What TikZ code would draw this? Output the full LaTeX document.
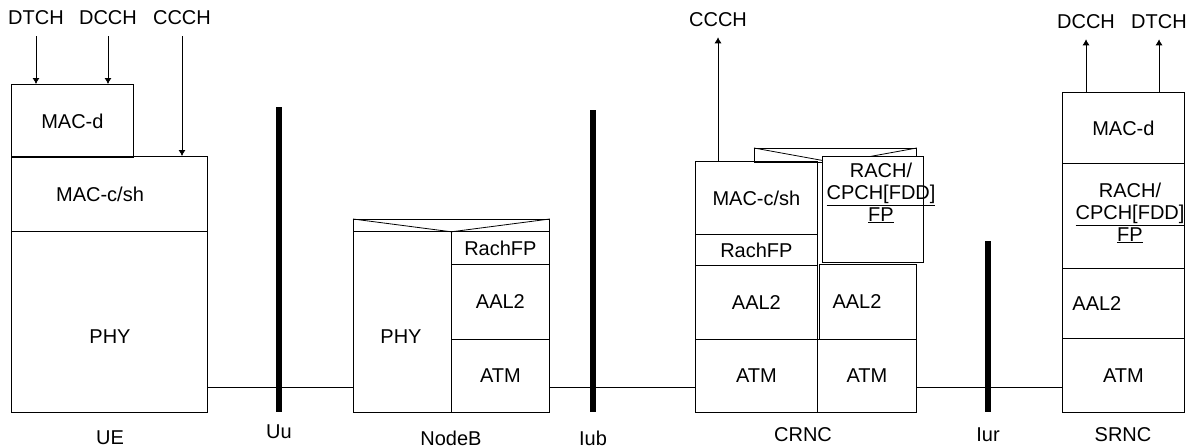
\documentclass[tikz,border=0pt]{standalone}
\usepackage{fontspec}
\setmainfont{Liberation Sans}
\usetikzlibrary{shapes,arrows.meta}
\tikzset{
    block/.style = {draw, 
                    rectangle, 
                    inner sep=0pt,
                    line width=0.8pt,
                    anchor=north west
    },
    dims/.style 2 args = {minimum width=#1, minimum height=#2},
    tag/.style = {inner sep=2pt},
    bar/.style = {line width=6pt},
    link/.style = {line width=0.8pt},
    chanin/.style = {line width=0.8pt, -{Latex[length=6pt,width=7pt]}, shorten <=9pt},
    chanout/.style = {line width=0.8pt, -{Latex[length=6pt,width=7pt]}, shorten >=8pt}
}

\begin{document}
\begin{tikzpicture}[x=1pt, y=-1pt, font=\fontsize{20}{22}\selectfont]
    \useasboundingbox (0,0) rectangle (1190,447);

    % UE
    \node [block,dims={122}{73}]    (uemacd)  at (11,84)   {MAC-d};
    \node [block,dims={196}{75}]    (uemacc)  at (11,156)  {};
    \node [block,dims={196}{181}]   (uephy)   at (11,231)  {};
    \node [tag]                     (uemacct) at (100,194) {MAC-c/sh};
    \node [tag]                     (uephyt)  at (110,337) {PHY};
    \node [tag]                     (uedtch)  at (36,18)   {DTCH};
    \node [tag]                     (uedcch)  at (108,18)  {DCCH};
    \node [tag]                     (ueccch)  at (182,18)  {CCCH};
    \node [tag]                     (ue)      at (110,438) {UE};

    \draw[chanin] (uedtch) -- (uedtch |- uemacd.north);
    \draw[chanin] (uedcch) -- (uedcch |- uemacd.north);
    \draw[chanin] (ueccch) -- (ueccch |- uemacc.north);

    % NodeB
    \node [block,dims={196}{12}]    (nbtop)   at (353,219) {};
    \node [block,dims={98}{181}]    (nbphy)   at (353,231) {};
    \node [block,dims={98}{33}]     (nbrach)  at (451,231) {RachFP};
    \node [block,dims={98}{75}]     (nbaal)   at (451,264) {AAL2};
    \node [block,dims={98}{73}]     (nbatm)   at (451,339) {ATM};
    \node [tag]                     (nbphyt)  at (401,337) {PHY};
    \node [tag]                     (nodeb)   at (451,438) {NodeB};
    \draw[link] (nbtop.north west) -- (nbtop.south) -- (nbtop.north east);

    % CRNC
    \node [block,dims={162}{14}]    (crtop)   at (754,148) {};
    \draw[link] (crtop.north west) -- (crtop.south) -- (crtop.north east);
    \node [block,fill=white,dims={101}{106}] (crrach) at (822,156) {};
    \node [align=center,inner sep=0pt] (crracht) at (881,193)
          {RACH/\\\underline{CPCH[FDD]}\\\underline{FP}};
    \node [block,dims={122}{73}]    (crmacc)  at (695,161) {MAC-c/sh};
    \node [block,dims={122}{31}]    (crrachfp) at (695,234) {RachFP};
    \node [block,dims={122}{74}]    (craal)   at (695,265) {AAL2};
    \node [block,dims={122}{73}]    (cratm)   at (695,339) {ATM};
    \node [block,dims={97}{75}]     (craal2)  at (819,264) {};
    \node [block,dims={99}{73}]     (cratm2)  at (817,339) {ATM};
    \node [tag]                     (craal2t) at (857,302) {AAL2};
    \node [tag]                     (crccch)  at (718,20)  {CCCH};
    \node [tag]                     (crnc)    at (803,435) {CRNC};

    \draw[chanout] (crccch |- crmacc.north) -- (crccch);

    % SRNC
    \node [block,dims={122}{71}]    (srmacd)  at (1062,92)  {MAC-d};
    \node [block,dims={122}{105}]   (srrach)  at (1062,163) {};
    \node [align=center,inner sep=0pt] (srracht) at (1130,213)
          {RACH/\\\underline{CPCH[FDD]}\\\underline{FP}};
    \node [block,dims={122}{70},text width=102,inner xsep=10,align=left] (sraal) at (1062,268) {AAL2};
    \node [block,dims={122}{74}]    (sratm)   at (1062,338) {ATM};
    \node [tag]                     (srdcch)  at (1086,22)  {DCCH};
    \node [tag]                     (srdtch)  at (1159,22)  {DTCH};
    \node [tag]                     (srnc)    at (1123,435) {SRNC};

    \draw[chanout] (srdcch |- srmacd.north) -- (srdcch);
    \draw[chanout] (srdtch |- srmacd.north) -- (srdtch);

    % interfaces
    \node [tag] (uu)  at (279,432) {Uu};
    \node [tag] (iub) at (593,438) {Iub};
    \node [tag] (iur) at (988,435) {Iur};

    \draw[link] (uephy.east |- 0,387)  -- (nbphy.west |- 0,387);
    \draw[link] (nbatm.east |- 0,387)  -- (cratm.west |- 0,387);
    \draw[link] (cratm2.east |- 0,387) -- (sratm.west |- 0,387);

    \draw[bar] (uu |- 0,107)  -- (uu |- 0,412);
    \draw[bar] (iub |- 0,110) -- (iub |- 0,412);
    \draw[bar] (iur |- 0,241) -- (iur |- 0,412);
\end{tikzpicture}
\end{document}
